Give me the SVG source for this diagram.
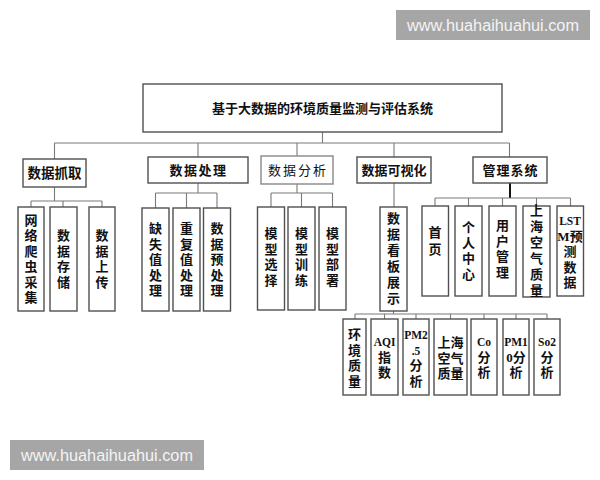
<svg xmlns="http://www.w3.org/2000/svg" width="600" height="480" viewBox="0 0 600 480">
<style>
.box{fill:#fff;stroke:#505050;stroke-width:1.4}
.ln{stroke:#7a7a7a;stroke-width:1.1;fill:none}
.thick{stroke:#111;stroke-width:2;fill:none}
.t{font-family:"Liberation Serif","Noto Sans CJK SC",serif;font-weight:bold;font-size:13px;fill:#111;text-anchor:middle}
.n{font-weight:normal}
.lat{font-size:11.5px}
.wm{fill:#a6a6a6}
.wt{font-family:"Liberation Sans",Arial,sans-serif;font-size:16.3px;fill:#f4f4f4;text-anchor:middle}
</style>
<rect width="600" height="480" fill="#fff"/>
<g id="watermark-top"><rect class="wm" x="396" y="10" width="194" height="30"/><text class="wt" x="493" y="31">www.huahaihuahui.com</text></g>
<g id="watermark-bottom"><rect class="wm" x="10" y="440" width="194" height="30"/><text class="wt" x="107" y="461">www.huahaihuahui.com</text></g>

<g id="connectors">
<path class="ln" d="M322.5 132V143M54.5 143H509.5M54.5 143V159M198 143V157M297 143V156M394 143V157M509.5 143V157"/>
<path class="ln" d="M54.5 187V201M31 201H102M31 201V207M63 201V207M102 201V207"/>
<path class="ln" d="M198 183V193M155.5 193H217M155.5 193V208M186.5 193V208M217 193V208"/>
<path class="ln" d="M297 184V193M271 193H332.5M271 193V207M301.5 193V207M332.5 193V207"/>
<path class="ln" d="M394 183V207"/>
<path class="thick" d="M510 183V198"/>
<path class="ln" d="M435 198H570.5M435 198V206M468.5 198V206M502.5 198V206M536.5 198V206M570.5 198V206"/>
<path class="ln" d="M393.5 311V314M355 314H547M355 314V319M384.5 314V319M416 314V319M450.5 314V319M484 314V319M516 314V319M547 314V319"/>
</g>

<g id="root"><rect class="box" x="143" y="84" width="359" height="48"/><text class="t" x="322.5" y="113">基于大数据的环境质量监测与评估系统</text></g>

<g id="n-zhuaqu"><rect class="box" x="23" y="159" width="63" height="28"/><text class="t" x="54.5" y="178" style="font-size:13.5px">数据抓取</text></g>
<g id="n-chuli"><rect class="box" x="148" y="157" width="100" height="26"/><text class="t" x="198.5" y="175" letter-spacing="1.5">数据处理</text></g>
<g id="n-fenxi"><rect class="box" x="261" y="156" width="72" height="28" style="stroke:#888"/><text class="t n" x="298" y="175" letter-spacing="2">数据分析</text></g>
<g id="n-keshihua"><rect class="box" x="357" y="157" width="74" height="26"/><text class="t" x="394" y="175">数据可视化</text></g>
<g id="n-guanli"><rect class="box" x="473" y="157" width="74" height="26"/><text class="t" x="510.5" y="175" letter-spacing="1">管理系统</text></g>

<g id="n-wangluo"><rect class="box" x="18" y="207" width="26" height="104"/><text class="t" x="31" y="225"><tspan x="31">网</tspan><tspan x="31" dy="15.4">络</tspan><tspan x="31" dy="15.4">爬</tspan><tspan x="31" dy="15.4">虫</tspan><tspan x="31" dy="15.4">采</tspan><tspan x="31" dy="15.4">集</tspan></text></g>
<g id="n-cunchu"><rect class="box" x="50" y="207" width="27" height="104"/><text class="t" x="63.5" y="240"><tspan x="63.5">数</tspan><tspan x="63.5" dy="15.6">据</tspan><tspan x="63.5" dy="15.6">存</tspan><tspan x="63.5" dy="15.6">储</tspan></text></g>
<g id="n-shangchuan"><rect class="box" x="89" y="207" width="26" height="104"/><text class="t" x="102" y="240"><tspan x="102">数</tspan><tspan x="102" dy="15.6">据</tspan><tspan x="102" dy="15.6">上</tspan><tspan x="102" dy="15.6">传</tspan></text></g>

<g id="n-queshi"><rect class="box" x="142" y="208" width="27" height="103"/><text class="t" x="155.5" y="233"><tspan x="155.5">缺</tspan><tspan x="155.5" dy="15.6">失</tspan><tspan x="155.5" dy="15.6">值</tspan><tspan x="155.5" dy="15.6">处</tspan><tspan x="155.5" dy="15.6">理</tspan></text></g>
<g id="n-chongfu"><rect class="box" x="173" y="208" width="27" height="103"/><text class="t" x="186.5" y="233"><tspan x="186.5">重</tspan><tspan x="186.5" dy="15.6">复</tspan><tspan x="186.5" dy="15.6">值</tspan><tspan x="186.5" dy="15.6">处</tspan><tspan x="186.5" dy="15.6">理</tspan></text></g>
<g id="n-yuchuli"><rect class="box" x="203.5" y="208" width="27" height="103"/><text class="t" x="217" y="233"><tspan x="217">数</tspan><tspan x="217" dy="15.6">据</tspan><tspan x="217" dy="15.6">预</tspan><tspan x="217" dy="15.6">处</tspan><tspan x="217" dy="15.6">理</tspan></text></g>

<g id="n-xuanze"><rect class="box" x="257.5" y="207" width="27" height="103"/><text class="t" x="271" y="238"><tspan x="271">模</tspan><tspan x="271" dy="15.7">型</tspan><tspan x="271" dy="15.7">选</tspan><tspan x="271" dy="15.7">择</tspan></text></g>
<g id="n-xunlian"><rect class="box" x="288" y="207" width="27" height="103"/><text class="t" x="301.5" y="238"><tspan x="301.5">模</tspan><tspan x="301.5" dy="15.7">型</tspan><tspan x="301.5" dy="15.7">训</tspan><tspan x="301.5" dy="15.7">练</tspan></text></g>
<g id="n-bushu"><rect class="box" x="319" y="207" width="27" height="103"/><text class="t" x="332.5" y="238"><tspan x="332.5">模</tspan><tspan x="332.5" dy="15.7">型</tspan><tspan x="332.5" dy="15.7">部</tspan><tspan x="332.5" dy="15.7">署</tspan></text></g>

<g id="n-kanban"><rect class="box" x="380" y="207" width="27" height="104"/><text class="t" x="393.5" y="223"><tspan x="393.5">数</tspan><tspan x="393.5" dy="16">据</tspan><tspan x="393.5" dy="16">看</tspan><tspan x="393.5" dy="16">板</tspan><tspan x="393.5" dy="16">展</tspan><tspan x="393.5" dy="16">示</tspan></text></g>

<g id="n-shouye"><rect class="box" x="422" y="206" width="26.5" height="90"/><text class="t" x="435" y="237"><tspan x="435">首</tspan><tspan x="435" dy="17">页</tspan></text></g>
<g id="n-geren"><rect class="box" x="455" y="206" width="27" height="90"/><text class="t" x="468.5" y="232"><tspan x="468.5">个</tspan><tspan x="468.5" dy="15.5">人</tspan><tspan x="468.5" dy="15.5">中</tspan><tspan x="468.5" dy="15.5">心</tspan></text></g>
<g id="n-yonghu"><rect class="box" x="489" y="206" width="27" height="90"/><text class="t" x="502.5" y="230"><tspan x="502.5">用</tspan><tspan x="502.5" dy="15.6">户</tspan><tspan x="502.5" dy="15.6">管</tspan><tspan x="502.5" dy="15.6">理</tspan></text></g>
<g id="n-shanghai1"><rect class="box" x="523" y="206" width="27" height="91"/><text class="t" x="536.5" y="215"><tspan x="536.5">上</tspan><tspan x="536.5" dy="16">海</tspan><tspan x="536.5" dy="16">空</tspan><tspan x="536.5" dy="16">气</tspan><tspan x="536.5" dy="16">质</tspan><tspan x="536.5" dy="16">量</tspan></text></g>
<g id="n-lstm"><rect class="box" x="557" y="206" width="26.5" height="90"/><text class="t" x="570" y="225"><tspan x="570" class="lat">LST</tspan><tspan x="570" dy="15.5">M预</tspan><tspan x="570" dy="15.5">测</tspan><tspan x="570" dy="15.5">数</tspan><tspan x="570" dy="15.5">据</tspan></text></g>

<g id="n-huanjing"><rect class="box" x="343" y="319" width="23" height="76"/><text class="t" x="354.5" y="339"><tspan x="354.5">环</tspan><tspan x="354.5" dy="15.5">境</tspan><tspan x="354.5" dy="15.5">质</tspan><tspan x="354.5" dy="15.5">量</tspan></text></g>
<g id="n-aqi"><rect class="box" x="371" y="319" width="27" height="76"/><text class="t" x="384.5" y="346"><tspan x="384.5" class="lat">AQI</tspan><tspan x="384.5" dy="15.5">指</tspan><tspan x="384.5" dy="15.5">数</tspan></text></g>
<g id="n-pm25"><rect class="box" x="403" y="319" width="26" height="76"/><text class="t" x="416" y="339"><tspan x="416" class="lat">PM2</tspan><tspan x="416" dy="15.5" class="lat">.5</tspan><tspan x="416" dy="15.5">分</tspan><tspan x="416" dy="15.5">析</tspan></text></g>
<g id="n-shanghai2"><rect class="box" x="434" y="319" width="33" height="76"/><text class="t" x="450.5" y="347"><tspan x="450.5">上海</tspan><tspan x="450.5" dy="15.5">空气</tspan><tspan x="450.5" dy="15.5">质量</tspan></text></g>
<g id="n-co"><rect class="box" x="471" y="319" width="26" height="76"/><text class="t" x="484" y="346"><tspan x="484" class="lat">Co</tspan><tspan x="484" dy="15.5">分</tspan><tspan x="484" dy="15.5">析</tspan></text></g>
<g id="n-pm10"><rect class="box" x="503" y="319" width="26" height="76"/><text class="t" x="516" y="346"><tspan x="516" class="lat">PM1</tspan><tspan x="516" dy="15.5">0分</tspan><tspan x="516" dy="15.5">析</tspan></text></g>
<g id="n-so2"><rect class="box" x="534" y="319" width="26" height="76"/><text class="t" x="547" y="346"><tspan x="547" class="lat">So2</tspan><tspan x="547" dy="15.5">分</tspan><tspan x="547" dy="15.5">析</tspan></text></g>
</svg>
